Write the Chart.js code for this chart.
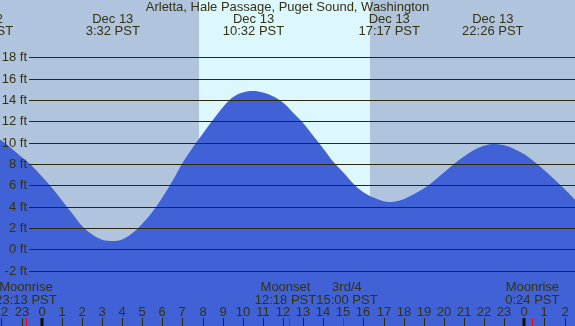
<!DOCTYPE html>
<html>
<head>
<meta charset="utf-8">
<style>
  body { margin: 0; background: #b0c4de; }
  canvas { display: block; }
</style>
<script src="https://cdn.jsdelivr.net/npm/chart.js@4.4.1/dist/chart.umd.min.js"></script>
</head>
<body>
<canvas id="tide" width="575" height="326"></canvas>
<script>
// hours from midnight Dec 13 (PST), tide height in feet
const hours = [-2.95, -2.5, -2, -1.5, -1, -0.5, 0, 0.5, 1, 1.5, 2, 2.5, 3, 3.53, 4, 4.5, 5, 5.5, 6, 6.5,
  7, 7.5, 8, 8.5, 9, 9.5, 10, 10.53, 11, 11.5, 12, 12.5, 13, 13.5, 14, 14.5, 15, 15.5, 16, 16.5,
  17, 17.28, 17.5, 18, 18.5, 19, 19.5, 20, 20.5, 21, 21.5, 22, 22.43, 23, 23.5, 24, 24.5, 25, 25.5, 26, 26.53];
const heights = [10.55, 10.5, 10.2, 9.45, 8.65, 7.85, 6.85, 5.8, 4.6, 3.4, 2.2, 1.4, 0.9, 0.78, 0.92, 1.5, 2.4, 3.5, 4.85, 6.4,
  8.1, 9.5, 10.8, 12.1, 13.3, 14.25, 14.7, 14.84, 14.7, 14.35, 13.75, 12.8, 11.85, 10.65, 9.45, 8.2, 7.2, 6.15, 5.35, 4.85,
  4.5, 4.43, 4.45, 4.7, 5.15, 5.7, 6.4, 7.2, 8.0, 8.7, 9.3, 9.7, 9.87, 9.75, 9.4, 8.9, 8.2, 7.4, 6.55, 5.65, 4.62];

const feetTicks = [-2, 0, 2, 4, 6, 8, 10, 12, 14, 16, 18];
const hourTicks = [-2, -1, 0, 1, 2, 3, 4, 5, 6, 7, 8, 9, 10, 11, 12, 13, 14, 15, 16, 17, 18, 19, 20, 21, 22, 23, 24, 25, 26];

const tideTimes = [-2.95, 3.533, 10.533, 17.283, 22.433];
const tideDates = ['Dec 12', 'Dec 13', 'Dec 13', 'Dec 13', 'Dec 13'];
const tideLabels = ['21:03 PST', '3:32 PST', '10:32 PST', '17:17 PST', '22:26 PST'];

const moonTimes = [-0.783, 12.3, 15, 24.4];
const moonNames = ['Moonrise', 'Moonset', '3rd/4', 'Moonrise'];
const moonLabels = ['23:13 PST', '12:18 PST', '15:00 PST', '0:24 PST'];

const sunrise = 7.833;
const sunset = 16.333;

const title = 'Arletta, Hale Passage, Puget Sound, Washington';

const textColor = '#333310';
const font = '13px "Liberation Sans", Arial, sans-serif';

const tidePlugin = {
  id: 'tideDecor',
  beforeDatasetsDraw(chart) {
    const ctx = chart.ctx;
    const x = chart.scales.x;
    const area = chart.chartArea;
    ctx.save();
    ctx.fillStyle = '#b0c4de';
    ctx.fillRect(area.left, area.top, area.width, area.height);
    ctx.fillStyle = '#ddf7fe';
    const x1 = Math.round(x.getPixelForValue(sunrise));
    const x2 = Math.round(x.getPixelForValue(sunset));
    ctx.fillRect(x1, area.top, x2 - x1, area.height);
    ctx.restore();
  },
  afterDatasetsDraw(chart) {
    const ctx = chart.ctx;
    const x = chart.scales.x;
    const y = chart.scales.y;
    const w = chart.width;
    const h = chart.height;
    ctx.save();
    ctx.font = font;
    ctx.fillStyle = textColor;

    // grid lines and feet labels
    ctx.strokeStyle = '#2a2a0a';
    ctx.lineWidth = 1;
    feetTicks.forEach((ft) => {
      const py = Math.round(y.getPixelForValue(ft)) + 0.5;
      ctx.beginPath();
      ctx.moveTo(29, py);
      ctx.lineTo(w, py);
      ctx.stroke();
      ctx.textAlign = 'right';
      ctx.textBaseline = 'middle';
      ctx.fillText(ft + ' ft', 27, py);
    });

    // title
    ctx.textAlign = 'center';
    ctx.textBaseline = 'middle';
    ctx.fillText(title, w / 2, 7);

    // high / low labels
    tideTimes.forEach((t, i) => {
      const px = x.getPixelForValue(t);
      ctx.fillText(tideDates[i], px, 19);
      ctx.fillText(tideLabels[i], px, 31);
    });

    // moon labels, pushed apart where they overlap
    const pos = moonTimes.map((t) => x.getPixelForValue(t));
    const half = moonNames.map((n, i) =>
      Math.max(ctx.measureText(n).width, ctx.measureText(moonLabels[i]).width) / 2);
    const centers = pos.slice();
    for (let i = 0; i < centers.length - 1; i++) {
      const overlap = (centers[i] + half[i]) - (centers[i + 1] - half[i + 1]);
      if (overlap > 0) {
        centers[i] -= overlap / 2;
        centers[i + 1] += overlap / 2;
      }
    }
    centers.forEach((cx, i) => {
      ctx.fillText(moonNames[i], cx, 287);
      ctx.fillText(moonLabels[i], cx, 300);
    });

    // hour ticks
    hourTicks.forEach((hr) => {
      const px = Math.round(x.getPixelForValue(hr));
      const label = String(((hr % 24) + 24) % 24);
      ctx.fillStyle = textColor;
      ctx.fillText(label, px, 312);
      if (hr % 24 === 0) {
        ctx.fillStyle = '#111100';
        ctx.fillRect(px - 1.5, 318, 3, h - 318);
      } else {
        ctx.fillStyle = '#2a2a0a';
        ctx.fillRect(px, 318, 1, h - 318);
      }
    });
    ctx.fillStyle = '#ff0000';
    pos.forEach((px) => {
      ctx.fillRect(Math.round(px), 318, 1, h - 318);
    });
    ctx.restore();
  }
};

new Chart(document.getElementById('tide'), {
  type: 'line',
  data: {
    datasets: [{
      data: hours.map((hr, i) => ({ x: hr, y: heights[i] })),
      fill: 'start',
      backgroundColor: '#4161d6',
      borderWidth: 0,
      pointRadius: 0,
      cubicInterpolationMode: 'monotone'
    }]
  },
  options: {
    responsive: false,
    animation: false,
    layout: { padding: 0 },
    plugins: { legend: { display: false }, tooltip: { enabled: false } },
    scales: {
      x: { type: 'linear', min: -2.074, max: 26.52, display: false },
      y: { min: -7.19, max: 23.37, display: false }
    }
  },
  plugins: [tidePlugin]
});
</script>
</body>
</html>
